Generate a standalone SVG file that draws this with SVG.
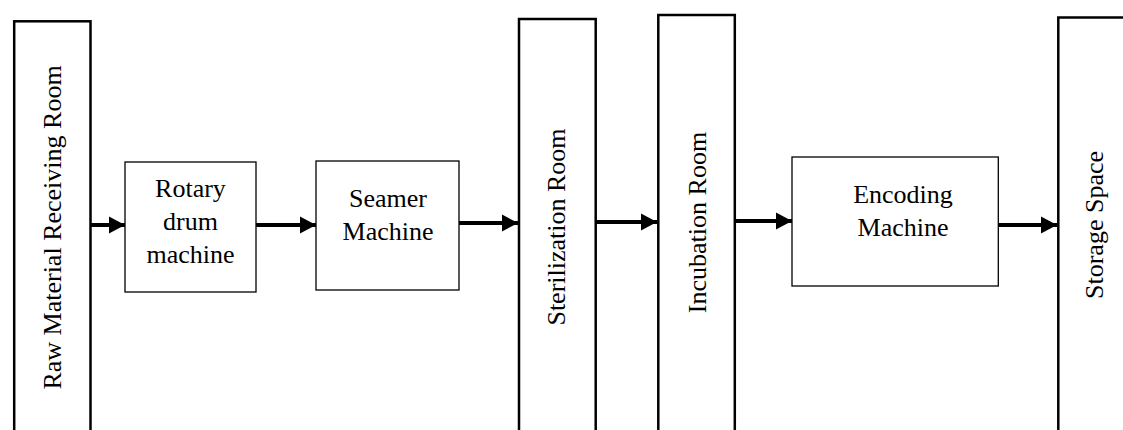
<svg xmlns="http://www.w3.org/2000/svg" width="1123" height="430" viewBox="0 0 1123 430">
  <style>
    .room { fill: #ffffff; stroke: #000000; stroke-width: 2.5; }
    .machine { fill: #ffffff; stroke: #000000; stroke-width: 1.3; }
    .label { font-family: 'Liberation Serif', 'Times New Roman', Times, 'DejaVu Serif', serif; font-size: 26px; fill: #000000; text-anchor: middle; }
    .flow { stroke: #000000; stroke-width: 4; fill: none; marker-end: url(#head); }
  </style>
  <defs>
    <marker id="head" markerUnits="userSpaceOnUse" markerWidth="17" markerHeight="18" refX="16" refY="9" orient="auto">
      <path d="M0,0.5 L16,9 L0,17.5 Z" fill="#000000"/>
    </marker>
  </defs>

  <rect width="1123" height="430" fill="#ffffff"/>

  <!-- Tall room columns run off the bottom edge -->
  <g id="raw-material-room">
    <rect class="room" x="14.2" y="21.3" width="76.3" height="420"/>
    <text class="label" font-family="Liberation Serif, serif" transform="translate(61,227.5) rotate(-90)">Raw Material Receiving Room</text>
  </g>

  <g id="rotary-drum-machine">
    <rect class="machine" x="125" y="162" width="131" height="130"/>
    <text class="label" x="190.5" y="197">Rotary</text>
    <text class="label" x="190.5" y="230">drum</text>
    <text class="label" x="190.5" y="263">machine</text>
  </g>

  <g id="seamer-machine">
    <rect class="machine" x="316" y="161" width="143" height="129"/>
    <text class="label" x="388" y="207">Seamer</text>
    <text class="label" x="388" y="240">Machine</text>
  </g>

  <g id="sterilization-room">
    <rect class="room" x="519" y="19" width="76.7" height="420"/>
    <text class="label" transform="translate(565,227) rotate(-90)">Sterilization Room</text>
  </g>

  <g id="incubation-room">
    <rect class="room" x="658.3" y="15" width="76.5" height="420"/>
    <text class="label" transform="translate(706,222.5) rotate(-90)">Incubation Room</text>
  </g>

  <g id="encoding-machine">
    <rect class="machine" x="792" y="157" width="206.3" height="129"/>
    <text class="label" x="903" y="203">Encoding</text>
    <text class="label" x="903" y="236">Machine</text>
  </g>

  <g id="storage-space">
    <rect class="room" x="1058.3" y="17.5" width="80" height="420"/>
    <text class="label" transform="translate(1103,225) rotate(-90)">Storage Space</text>
  </g>

  <g id="connectors">
    <line class="flow" x1="91" y1="225" x2="125" y2="225"/>
    <line class="flow" x1="256" y1="225" x2="316" y2="225"/>
    <line class="flow" x1="459" y1="223" x2="518" y2="223"/>
    <line class="flow" x1="596" y1="222" x2="657" y2="222"/>
    <line class="flow" x1="735" y1="221" x2="792" y2="221"/>
    <line class="flow" x1="998" y1="225" x2="1057" y2="225"/>
  </g>
</svg>
